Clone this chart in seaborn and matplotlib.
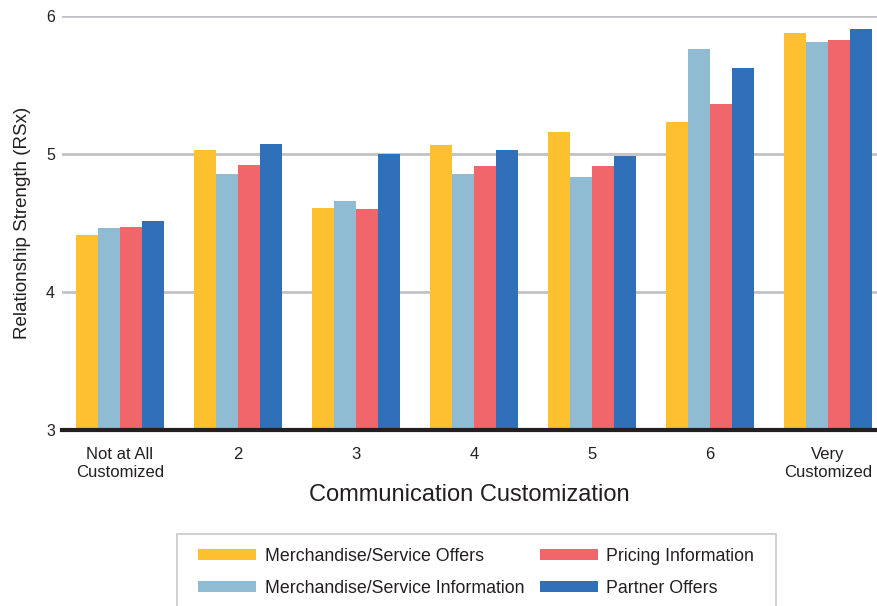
import matplotlib
matplotlib.use("Agg")
import matplotlib.pyplot as plt
from matplotlib.patches import Rectangle
import seaborn as sns
import pandas as pd

categories = ["Not at All\nCustomized", "2", "3", "4", "5", "6", "Very\nCustomized"]
series_names = [
    "Merchandise/Service Offers",
    "Merchandise/Service Information",
    "Pricing Information",
    "Partner Offers",
]
merch_offers = [4.41, 5.03, 4.61, 5.06, 5.16, 5.23, 5.87]
merch_info = [4.46, 4.85, 4.66, 4.85, 4.83, 5.76, 5.81]
pricing_info = [4.47, 4.92, 4.60, 4.91, 4.91, 5.36, 5.82]
partner_offers = [4.51, 5.07, 5.00, 5.03, 4.98, 5.62, 5.90]
colors = ["#FDC02F", "#8FBBD3", "#F0666B", "#3070B8"]

rows = []
for name, vals in zip(series_names,
                      [merch_offers, merch_info, pricing_info, partner_offers]):
    for cat, v in zip(categories, vals):
        rows.append({"cat": cat, "series": name, "value": v})
df = pd.DataFrame(rows)

sns.set_theme(style="white")
plt.rcParams["font.family"] = ["Liberation Sans", "DejaVu Sans"]

W, H = 877, 606
fig = plt.figure(figsize=(W / 100, H / 100), dpi=100)
ax = fig.add_axes([62 / W, (H - 430) / H, 1 - 62 / W, (430 - 15.5) / H])

sns.barplot(data=df, x="cat", y="value", hue="series", order=categories,
            hue_order=series_names, palette=colors, width=0.74, gap=0,
            saturation=1, linewidth=0, ax=ax, legend=True)

ax.set_ylim(3, 6)
ax.set_xlim(-0.49, 6.415)
ax.set_yticks([3, 4, 5, 6])
ax.yaxis.grid(True, color="#C2C2C6", linewidth=2)
ax.set_axisbelow(True)
for s in ["top", "right", "left"]:
    ax.spines[s].set_visible(False)
ax.spines["bottom"].set_color("#231F20")
ax.spines["bottom"].set_linewidth(3)
ax.tick_params(axis="both", length=0, colors="#231F20")
ax.tick_params(axis="x", labelsize=12, pad=12)
ax.tick_params(axis="y", labelsize=11.5, pad=5)
for lbl in ax.get_xticklabels():
    lbl.set_linespacing(1.3)
ax.set_xlabel("Communication Customization", fontsize=17, color="#231F20", labelpad=3)
ax.set_ylabel("Relationship Strength (RSx)", fontsize=13.5, color="#231F20", labelpad=11)

# legend: two columns of wide flat swatches inside a light grey box
handles, labels = ax.get_legend_handles_labels()
ax.get_legend().remove()
fs = 12.8
fpx = fs * 100 / 72
leg = fig.legend(handles, labels, ncol=2, loc="upper left",
                 bbox_to_anchor=(198 / W, 1 - 548 / H),
                 frameon=False, fontsize=fs, handlelength=58 / fpx,
                 handleheight=10 / fpx, handletextpad=9 / fpx,
                 columnspacing=15 / fpx, labelspacing=0.85,
                 borderpad=0, borderaxespad=0)
for t in leg.get_texts():
    t.set_color("#231F20")
fig.patches.append(Rectangle((176.5 / W, -0.05), (776 - 176.5) / W, 0.05 + (H - 534) / H,
                             transform=fig.transFigure, facecolor="none",
                             edgecolor="#C8C8C8", linewidth=1.2))

fig.savefig("out.png", dpi=100)
